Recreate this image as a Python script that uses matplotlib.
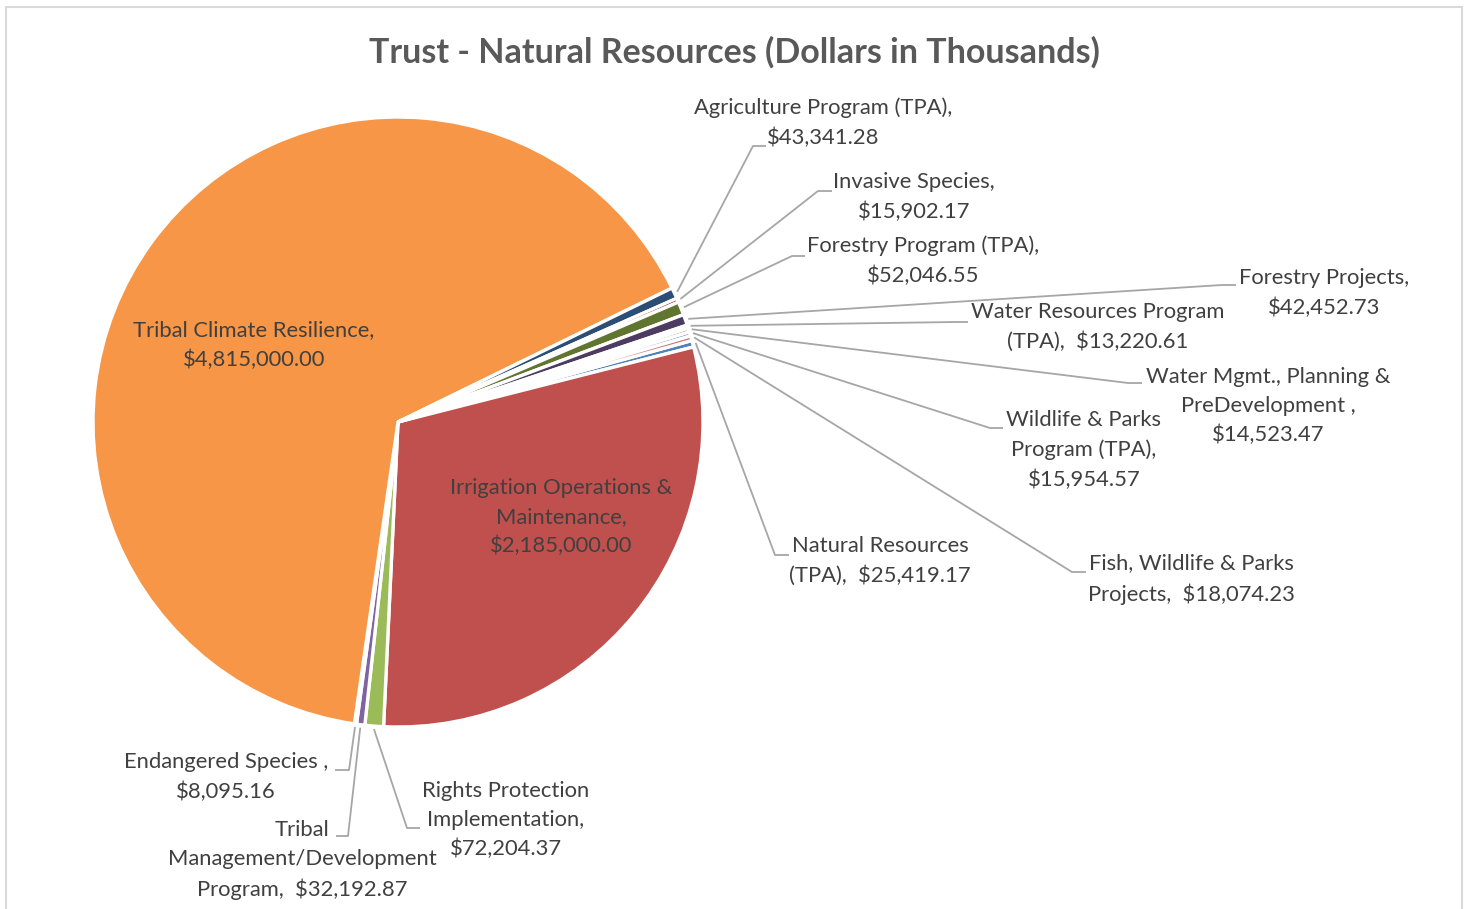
import matplotlib
matplotlib.use("Agg")
import matplotlib.pyplot as plt
import numpy as np
from matplotlib.patches import Rectangle

# budget lines (Dollars in Thousands), in the order the slices are drawn
names = [
    "Natural Resources\n(TPA),  {}",
    "Irrigation Operations &\nMaintenance,\n{}",
    "Rights Protection\nImplementation,\n{}",
    "Tribal\nManagement/Development\nProgram,  {}",
    "Endangered Species ,\n{}",
    "Tribal Climate Resilience,\n{}",
    "Agriculture Program (TPA),\n{}",
    "Invasive Species,\n{}",
    "Forestry Program (TPA),\n{}",
    "Forestry Projects,\n{}",
    "Water Resources Program\n(TPA),  {}",
    "Water Mgmt., Planning &\nPreDevelopment ,\n{}",
    "Wildlife & Parks\nProgram (TPA),\n{}",
    "Fish, Wildlife & Parks\nProjects,  {}",
]
values = [25419.17, 2185000.00, 72204.37, 32192.87, 8095.16, 4815000.00,
          43341.28, 15902.17, 52046.55, 42452.73, 13220.61, 14523.47,
          15954.57, 18074.23]
colors = ["#4F81BD", "#C0504D", "#9BBB59", "#8064A2", "#4BACC6", "#F79646",
          "#2C4D75", "#772C2A", "#5F7530", "#4D3B62", "#276A7C", "#B65708",
          "#729ACA", "#CD7371"]

W, H = 1468, 909
cx, cy, R = 398, 422, 305  # pie centre / radius in pixels from the top-left

# label placement: text centre, and the elbow of the leader line (None = label inside slice)
label_xy = [(880, 561), (561, 517), (506, 820), (302, 860), (226, 777), (254, 345),
            (823, 123), (914, 197), (923, 261), (1324, 293), (1098, 327), (1268, 406),
            (1084, 450), (1191, 579)]
elbows = [
    [(775, 555), (789, 555)],
    None,
    [(407, 828), (420, 828)],
    [(348, 836), (336, 836)],
    [(349, 770), (335, 770)],
    None,
    [(753, 146), (766, 146)],
    [(818, 191), (832, 191)],
    [(792, 256), (805, 256)],
    [(1222, 285), (1236, 285)],
    [(955, 322), (968, 322)],
    [(1128, 383), (1142, 383)],
    [(990, 428), (1003, 428)],
    [(1072, 572), (1086, 572)],
]


def fy(y):
    return H - y


fig = plt.figure(figsize=(W / 100, H / 100), dpi=100)
ax = fig.add_axes([0, 0, 1, 1])
ax.set_xlim(0, W)
ax.set_ylim(0, H)
ax.set_aspect("equal")
ax.axis("off")

# chart area border
ax.add_patch(Rectangle((6, -20), 1456, fy(7) + 20, fill=False,
                       edgecolor="#D9D9D9", linewidth=1.5))

start = 15.5
wedges, _ = ax.pie(values, colors=colors, startangle=start, counterclock=False,
                   center=(cx, fy(cy)), radius=R, frame=True,
                   wedgeprops=dict(edgecolor="white", linewidth=2.4))
ax.set_xlim(0, W)
ax.set_ylim(0, H)
ax.axis("off")

font = "Lato"
txt_color = "#404040"
for w, name, v, pos, elb in zip(wedges, names, values, label_xy, elbows):
    s = name.format(f"${v:,.2f}")
    ax.text(pos[0], fy(pos[1]), s, ha="center", va="center", multialignment="center",
            fontsize=15.8, family=font, color=txt_color, linespacing=1.56)
    if elb is None:
        continue
    mid = np.deg2rad((w.theta1 + w.theta2) / 2)
    x0 = cx + (R + 3) * np.cos(mid)
    y0 = fy(cy) + (R + 3) * np.sin(mid)
    xs = [x0, elb[0][0], elb[1][0]]
    ys = [y0, fy(elb[0][1]), fy(elb[1][1])]
    ax.plot(xs, ys, color="#A6A6A6", linewidth=1.3, solid_capstyle="butt")

ax.text(734, fy(52), "Trust - Natural Resources (Dollars in Thousands)", ha="center",
        va="center", fontsize=24.5, fontweight="bold", family=font, color="#595959")

fig.savefig("out.png", dpi=100, facecolor="white")
